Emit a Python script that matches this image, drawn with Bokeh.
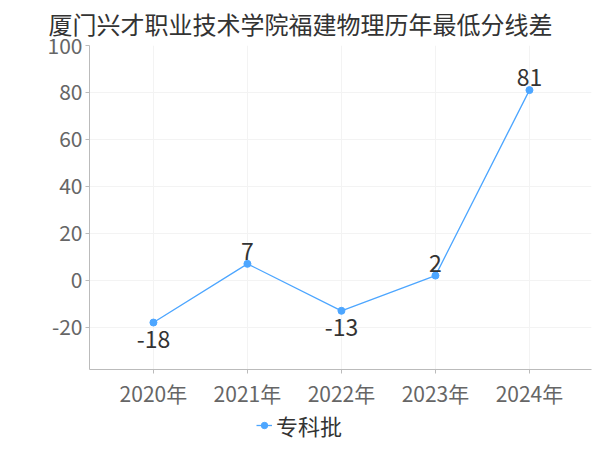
from bokeh.plotting import figure
from bokeh.layouts import column
from bokeh.models import ColumnDataSource, FixedTicker, Range1d, Legend, LegendItem
from bokeh.core.properties import value
from bokeh.embed import file_html
from bokeh.resources import INLINE

title = "厦门兴才职业技术学院福建物理历年最低分线差"
years = ["2020年", "2021年", "2022年", "2023年", "2024年"]
series_name = "专科批"
diffs = [-18, 7, -13, 2, 81]
y_ticks = [-20, 0, 20, 40, 60, 80, 100]

FONT = "Noto Sans CJK SC"
COLOR = "#4da6ff"

xs = list(range(len(years)))
src = ColumnDataSource(dict(x=xs, y=diffs))
pos = ColumnDataSource(dict(x=[x for x, v in zip(xs, diffs) if v >= 0],
                            y=[v for v in diffs if v >= 0],
                            label=[str(v) for v in diffs if v >= 0]))
neg = ColumnDataSource(dict(x=[x for x, v in zip(xs, diffs) if v < 0],
                            y=[v for v in diffs if v < 0],
                            label=[str(v) for v in diffs if v < 0]))

p = figure(width=592, height=410, output_backend="svg", toolbar_location=None,
           x_range=Range1d(-0.68, 4.66), y_range=Range1d(-38, 100),
           min_border_left=89, min_border_right=1, min_border_top=45, min_border_bottom=41)

p.title.text = title
p.title.align = "left"
p.title.offset = -41
p.title.standoff = 6
p.title.vertical_align = "top"
p.title.text_font = FONT
p.title.text_font_size = "24px"
p.title.text_font_style = "normal"
p.title.text_color = "#333333"

p.outline_line_color = None
p.background_fill_color = "white"

p.xaxis.ticker = FixedTicker(ticks=xs)
p.xaxis.major_label_overrides = {i: y for i, y in enumerate(years)}
p.yaxis.ticker = FixedTicker(ticks=y_ticks)
p.yaxis.major_label_overrides = {t: str(t) for t in y_ticks}
for ax in (p.xaxis, p.yaxis):
    ax.axis_line_color = "#bbbbbb"
    ax.major_tick_line_color = "#bbbbbb"
    ax.major_tick_in = 0
    ax.major_tick_out = 4
    ax.minor_tick_line_color = None
    ax.major_label_text_font = FONT
    ax.major_label_text_font_size = "21px"
    ax.major_label_text_color = "#666666"
p.xaxis.major_label_standoff = 4
p.yaxis.major_label_standoff = 3

p.xgrid.ticker = FixedTicker(ticks=xs)
p.ygrid.ticker = FixedTicker(ticks=y_ticks)
p.grid.grid_line_color = "#f3f3f3"

p.line("x", "y", source=src, line_color=COLOR, line_width=1.3)
p.scatter("x", "y", source=src, size=7, fill_color=COLOR, line_color=COLOR)

p.text("x", "y", text="label", source=pos, text_font=value(FONT), text_font_size="23px",
       text_color="#333333", text_align="center", text_baseline="bottom", y_offset=-4)
p.text("x", "y", text="label", source=neg, text_font=value(FONT), text_font_size="23px",
       text_color="#333333", text_align="center", text_baseline="top", y_offset=8)

# legend strip below the chart (its renderers sit outside its visible range)
lg = figure(width=592, height=32, output_backend="svg", toolbar_location=None,
            x_range=Range1d(-0.68, 4.66), y_range=Range1d(1000, 1001),
            min_border_left=89, min_border_right=1, min_border_top=0, min_border_bottom=0)
lg.axis.visible = False
lg.grid.visible = False
lg.outline_line_color = None
lln = lg.line("x", "y", source=src, line_color=COLOR, line_width=1.3)
lsc = lg.scatter("x", "y", source=src, size=7, fill_color=COLOR, line_color=COLOR)
legend = Legend(items=[LegendItem(label=series_name, renderers=[lln, lsc])],
                location=(167, 1), orientation="horizontal",
                border_line_color=None, background_fill_alpha=0,
                label_text_font=FONT, label_text_font_size="22px",
                label_text_color="#333333", glyph_width=16, glyph_height=20,
                label_standoff=4, padding=0, margin=0)
lg.add_layout(legend, "center")

layout = column(p, lg, spacing=0)
open("out.html", "w").write(file_html(layout, INLINE))
